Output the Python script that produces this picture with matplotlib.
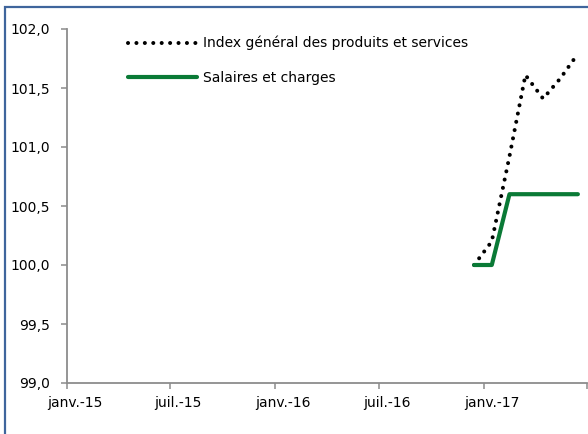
import datetime as dt

import matplotlib
matplotlib.use('Agg')
import matplotlib.pyplot as plt
import matplotlib.transforms as mtransforms
from matplotlib.patches import Rectangle

# monthly points, plotted mid-month
months = ['2016-12-15', '2017-01-15', '2017-02-15', '2017-03-15',
          '2017-04-15', '2017-05-15', '2017-06-15']
index_general = [100.0, 100.2, 100.92, 101.61, 101.41, 101.58, 101.79]
salaires = [100.0, 100.0, 100.6, 100.6, 100.6, 100.6, 100.6]

tick_dates = ['2015-01-01', '2015-07-01', '2016-01-01', '2016-07-01',
              '2017-01-01', '2017-07-01']
tick_labels = ['janv.-15', 'juil.-15', 'janv.-16', 'juil.-16', 'janv.-17', '']
y_ticks = [99.0, 99.5, 100.0, 100.5, 101.0, 101.5, 102.0]

label_index = 'Index général des produits et services'
label_salaires = 'Salaires et charges'

GREEN = '#0a7a36'
AXIS_GREY = '#8c8c8c'
W, H = 588, 434

if __name__ == '__main__':
    plt.rcParams['font.family'] = ['DejaVu Sans']
    plt.rcParams['font.size'] = 10

    x = [dt.datetime.strptime(m, '%Y-%m-%d') for m in months]
    xt = [dt.datetime.strptime(m, '%Y-%m-%d') for m in tick_dates]

    fig = plt.figure(figsize=(W / 100, H / 100), dpi=100)
    ax = fig.add_axes([67 / W, 51 / H, 520 / W, 354 / H])

    ax.plot(x, index_general, color='black', lw=2.9,
            linestyle=(0, (0.01, 2.08)), dash_capstyle='round',
            label=label_index, zorder=2)
    ax.plot(x, salaires, color=GREEN, lw=3.0, solid_capstyle='round',
            label=label_salaires, zorder=3)

    ax.set_xlim(xt[0], xt[-1])
    ax.set_ylim(99.0, 102.0)
    ax.set_xticks(xt)
    ax.set_xticklabels(tick_labels)
    ax.set_yticks(y_ticks)
    ax.set_yticklabels([f'{v:.1f}'.replace('.', ',') for v in y_ticks])

    for side in ('top', 'right'):
        ax.spines[side].set_visible(False)
    for side in ('left', 'bottom'):
        ax.spines[side].set_color(AXIS_GREY)
        ax.spines[side].set_linewidth(1.3)
    ax.tick_params(axis='both', direction='out', length=4, width=1.1,
                   color=AXIS_GREY, labelcolor='black', labelsize=10)
    ax.tick_params(axis='y', pad=8)
    ax.tick_params(axis='x', pad=5)

    # excel puts the date labels a bit right of the tick
    shift = mtransforms.ScaledTranslation(8 / 100, 0, fig.dpi_scale_trans)
    for lbl in ax.get_xticklabels():
        lbl.set_transform(lbl.get_transform() + shift)

    ax.legend(loc='upper left', bbox_to_anchor=(128 / W, 1 - 36 / H),
              bbox_transform=fig.transFigure, frameon=False, fontsize=10,
              handlelength=4.95, handletextpad=0.45, labelspacing=1.5,
              borderpad=0, borderaxespad=0)

    fig.add_artist(Rectangle((4.5 / W, -0.05), 1.2, 1.05 - 6.5 / H,
                             transform=fig.transFigure, fill=False,
                             edgecolor='#3f659c', lw=1.6, clip_on=False))

    plt.savefig('out.png', dpi=100)
